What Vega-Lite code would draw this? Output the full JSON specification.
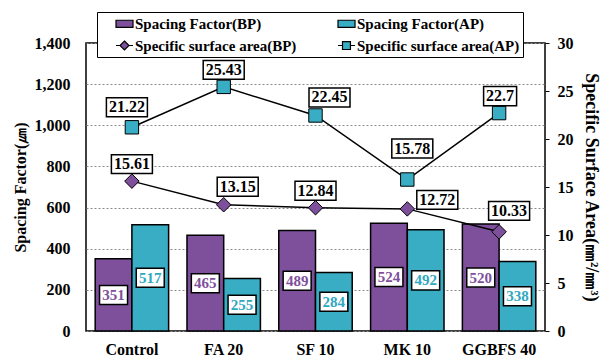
{
  "$schema": "https://vega.github.io/schema/vega-lite/v6.json",
  "width": 459,
  "height": 288,
  "autosize": "none",
  "padding": {"left": 86, "top": 43, "right": 61, "bottom": 33},
  "background": "white",
  "config": {
    "font": "Liberation Serif",
    "view": {"stroke": "black", "strokeWidth": 1.5},
    "axis": {
      "labelFont": "Liberation Serif", "labelFontWeight": "bold", "labelFontSize": 16, "labelColor": "black",
      "titleFont": "Liberation Serif", "titleFontWeight": "bold", "titleFontSize": 17, "titleColor": "black",
      "domain": false, "ticks": false, "grid": false
    },
    "axisX": {"labelPadding": 10, "labelAngle": 0, "title": null}
  },
  "datasets": {
    "bars": [
      {"cat": "Control", "series": "BP", "legend": "Spacing Factor(BP)", "value": 351},
      {"cat": "Control", "series": "AP", "legend": "Spacing Factor(AP)", "value": 517},
      {"cat": "FA 20", "series": "BP", "legend": "Spacing Factor(BP)", "value": 465},
      {"cat": "FA 20", "series": "AP", "legend": "Spacing Factor(AP)", "value": 255},
      {"cat": "SF 10", "series": "BP", "legend": "Spacing Factor(BP)", "value": 489},
      {"cat": "SF 10", "series": "AP", "legend": "Spacing Factor(AP)", "value": 284},
      {"cat": "MK 10", "series": "BP", "legend": "Spacing Factor(BP)", "value": 524},
      {"cat": "MK 10", "series": "AP", "legend": "Spacing Factor(AP)", "value": 492},
      {"cat": "GGBFS 40", "series": "BP", "legend": "Spacing Factor(BP)", "value": 520},
      {"cat": "GGBFS 40", "series": "AP", "legend": "Spacing Factor(AP)", "value": 338}
    ],
    "ssa": [
      {"cat": "Control", "series": "BP", "legend": "Specific surface area(BP)", "value": 15.61},
      {"cat": "FA 20", "series": "BP", "legend": "Specific surface area(BP)", "value": 13.15},
      {"cat": "SF 10", "series": "BP", "legend": "Specific surface area(BP)", "value": 12.84},
      {"cat": "MK 10", "series": "BP", "legend": "Specific surface area(BP)", "value": 12.72},
      {"cat": "GGBFS 40", "series": "BP", "legend": "Specific surface area(BP)", "value": 10.33},
      {"cat": "Control", "series": "AP", "legend": "Specific surface area(AP)", "value": 21.22},
      {"cat": "FA 20", "series": "AP", "legend": "Specific surface area(AP)", "value": 25.43},
      {"cat": "SF 10", "series": "AP", "legend": "Specific surface area(AP)", "value": 22.45},
      {"cat": "MK 10", "series": "AP", "legend": "Specific surface area(AP)", "value": 15.78},
      {"cat": "GGBFS 40", "series": "AP", "legend": "Specific surface area(AP)", "value": 22.7}
    ]
  },
  "encoding": {
    "x": {"field": "cat", "type": "nominal", "sort": ["Control", "FA 20", "SF 10", "MK 10", "GGBFS 40"],
          "scale": {"paddingInner": 0.2, "paddingOuter": 0.1}, "axis": {"title": null}}
  },
  "layer": [
    {
      "data": {"name": "bars"},
      "encoding": {
        "y": {"field": "value", "type": "quantitative", "scale": {"domain": [0, 1400]},
              "axis": {"title": "Spacing Factor(㎛)", "titleFontSize": 16, "orient": "left", "values": [0, 200, 400, 600, 800, 1000, 1200, 1400],
                       "format": ",d", "grid": true, "gridDash": [2, 2], "gridColor": "#8a8a8a", "gridWidth": 1, "labelPadding": 16, "titlePadding": 6}},
        "xOffset": {"field": "series", "type": "nominal", "sort": ["BP", "AP"], "scale": {"paddingInner": 0, "paddingOuter": 0}}
      },
      "layer": [
        {
          "mark": {"type": "bar", "stroke": "black", "strokeWidth": 1.5},
          "encoding": {
            "color": {"field": "legend", "type": "nominal",
              "scale": {"domain": ["Spacing Factor(BP)", "Specific surface area(BP)", "Spacing Factor(AP)", "Specific surface area(AP)"],
                        "range": ["#7E509C", "#7E509C", "#38ADC3", "#38ADC3"]},
              "legend": {"orient": "none", "legendX": 11, "legendY": -31, "columns": 2, "title": null,
                "strokeColor": "black", "fillColor": "white", "padding": 3,
                "labelFont": "Liberation Serif", "labelFontWeight": "bold", "labelFontSize": 15, "labelColor": "black", "labelLimit": 300,
                "symbolSize": 225, "columnPadding": 25, "rowPadding": 5, "labelOffset": 18,
                "symbolStrokeWidth": 1.2, "symbolStrokeColor": "black", "symbolOpacity": 1,
                "encode": {"symbols": {"update": {
                  "shape": {"signal": "indexof(datum.value,'Spacing')==0 ? 'M1,-0.47H3.27V0.47H1Z' : (indexof(datum.value,'(BP)')>0 ? 'M1,0H1.53M2.73,0H3.27M2.13,-0.6L2.73,0L2.13,0.6L1.53,0Z' : 'M1,0H1.6M2.66,0H3.27M1.6,-0.53H2.66V0.53H1.6Z')"},
                  "stroke": {"value": "black"}, "strokeWidth": {"value": 1.2}}}}}
            }
          }
        },
        {
          "transform": [{"calculate": "datum.value/2", "as": "mid"}],
          "mark": {"type": "point", "shape": "M-1,-0.68H1V0.68H-1Z", "size": 784, "filled": true, "fill": "white", "stroke": "black", "strokeWidth": 1.5, "opacity": 1},
          "encoding": {"y": {"field": "mid", "type": "quantitative"}}
        },
        {
          "transform": [{"calculate": "datum.value/2", "as": "mid"}],
          "mark": {"type": "text", "font": "Liberation Serif", "fontWeight": "bold", "fontSize": 15, "baseline": "middle", "align": "center"},
          "encoding": {
            "y": {"field": "mid", "type": "quantitative"},
            "text": {"field": "value", "type": "nominal"},
            "color": {"condition": {"test": "datum.series=='BP'", "value": "#7E509C"}, "value": "#2FA8C0"}
          }
        }
      ]
    },
    {
      "data": {"name": "ssa"},
      "encoding": {
        "y": {"field": "value", "type": "quantitative", "scale": {"domain": [0, 30]},
              "axis": {"title": "Specific Surface Area(㎜²/㎜³)", "titleFontSize": 18, "orient": "right", "values": [0, 5, 10, 15, 20, 25, 30],
                       "ticks": true, "tickSize": 4, "tickColor": "black", "labelPadding": 8, "titlePadding": 8}}
      },
      "layer": [
        {"mark": {"type": "line", "color": "black", "strokeWidth": 1.5}, "encoding": {"detail": {"field": "series", "type": "nominal"}}},
        {"transform": [{"filter": "datum.series=='BP'"}],
         "mark": {"type": "point", "shape": "diamond", "size": 210, "filled": true, "stroke": "black", "strokeWidth": 1, "opacity": 1},
         "encoding": {"color": {"field": "legend", "type": "nominal"}}},
        {"transform": [{"filter": "datum.series=='AP'"}],
         "mark": {"type": "point", "shape": "square", "size": 180, "filled": true, "stroke": "black", "strokeWidth": 1, "opacity": 1},
         "encoding": {"color": {"field": "legend", "type": "nominal"}}},
        {"transform": [{"filter": {"field": "value", "oneOf": [25.43, 15.61, 12.84]}}],
         "layer": [
           {"mark": {"type": "point", "shape": "M-1,-0.46H1V0.46H-1Z", "size": 1681, "filled": true, "fill": "white", "stroke": "black", "strokeWidth": 1.5, "opacity": 1, "yOffset": -17}},
           {"mark": {"type": "text", "fontWeight": "bold", "fontSize": 16, "color": "black", "baseline": "middle", "yOffset": -17}, "encoding": {"text": {"field": "value", "type": "nominal"}}}
         ]},
        {"transform": [{"filter": {"field": "value", "oneOf": [21.22]}}],
         "layer": [
           {"mark": {"type": "point", "shape": "M-1,-0.46H1V0.46H-1Z", "size": 1681, "filled": true, "fill": "white", "stroke": "black", "strokeWidth": 1.5, "opacity": 1, "xOffset": -5, "yOffset": -20}},
           {"mark": {"type": "text", "fontWeight": "bold", "fontSize": 16, "color": "black", "baseline": "middle", "xOffset": -5, "yOffset": -20}, "encoding": {"text": {"field": "value", "type": "nominal"}}}
         ]},
        {"transform": [{"filter": {"field": "value", "oneOf": [22.45, 13.15]}}],
         "layer": [
           {"mark": {"type": "point", "shape": "M-1,-0.46H1V0.46H-1Z", "size": 1681, "filled": true, "fill": "white", "stroke": "black", "strokeWidth": 1.5, "opacity": 1, "xOffset": 14, "yOffset": -18}},
           {"mark": {"type": "text", "fontWeight": "bold", "fontSize": 16, "color": "black", "baseline": "middle", "xOffset": 14, "yOffset": -18}, "encoding": {"text": {"field": "value", "type": "nominal"}}}
         ]},
        {"transform": [{"filter": {"field": "value", "oneOf": [15.78]}}],
         "layer": [
           {"mark": {"type": "point", "shape": "M-1,-0.46H1V0.46H-1Z", "size": 1681, "filled": true, "fill": "white", "stroke": "black", "strokeWidth": 1.5, "opacity": 1, "xOffset": 5, "yOffset": -31}},
           {"mark": {"type": "text", "fontWeight": "bold", "fontSize": 16, "color": "black", "baseline": "middle", "xOffset": 5, "yOffset": -31}, "encoding": {"text": {"field": "value", "type": "nominal"}}}
         ]},
        {"transform": [{"filter": {"field": "value", "oneOf": [22.7]}}],
         "layer": [
           {"mark": {"type": "point", "shape": "M-1,-0.58H1V0.58H-1Z", "size": 1089, "filled": true, "fill": "white", "stroke": "black", "strokeWidth": 1.5, "opacity": 1, "xOffset": 1, "yOffset": -17}},
           {"mark": {"type": "text", "fontWeight": "bold", "fontSize": 16, "color": "black", "baseline": "middle", "xOffset": 1, "yOffset": -17}, "encoding": {"text": {"field": "value", "type": "nominal"}}}
         ]},
        {"transform": [{"filter": {"field": "value", "oneOf": [12.72]}}],
         "layer": [
           {"mark": {"type": "point", "shape": "M-1,-0.46H1V0.46H-1Z", "size": 1681, "filled": true, "fill": "white", "stroke": "black", "strokeWidth": 1.5, "opacity": 1, "xOffset": 30, "yOffset": -9}},
           {"mark": {"type": "text", "fontWeight": "bold", "fontSize": 16, "color": "black", "baseline": "middle", "xOffset": 30, "yOffset": -9}, "encoding": {"text": {"field": "value", "type": "nominal"}}}
         ]},
        {"transform": [{"filter": {"field": "value", "oneOf": [10.33]}}],
         "layer": [
           {"mark": {"type": "point", "shape": "M-1,-0.46H1V0.46H-1Z", "size": 1681, "filled": true, "fill": "white", "stroke": "black", "strokeWidth": 1.5, "opacity": 1, "xOffset": 10, "yOffset": -21}},
           {"mark": {"type": "text", "fontWeight": "bold", "fontSize": 16, "color": "black", "baseline": "middle", "xOffset": 10, "yOffset": -21}, "encoding": {"text": {"field": "value", "type": "nominal"}}}
         ]}
      ]
    }
  ],
  "resolve": {"scale": {"y": "independent"}}
}
